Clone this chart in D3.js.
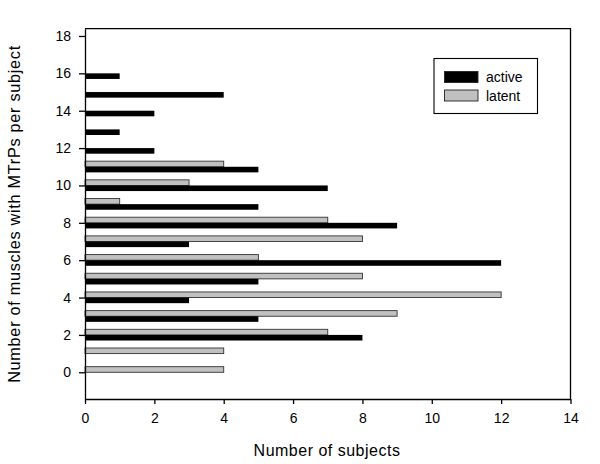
<html>
<head>
<script src="https://d3js.org/d3.v7.min.js"></script>
<style>
  body { margin: 0; background: #fff; }
  text { font-family: "Liberation Sans", Arial, sans-serif; }
</style>
</head>
<body>
<script>
// number of muscles with MTrPs per subject
const muscles = [0, 1, 2, 3, 4, 5, 6, 7, 8, 9, 10, 11, 12, 13, 14, 15, 16];
// number of subjects
const active = [0, 0, 8, 5, 3, 5, 12, 3, 9, 5, 7, 5, 2, 1, 2, 4, 1];
const latent = [4, 4, 7, 9, 12, 8, 5, 8, 7, 1, 3, 4, 0, 0, 0, 0, 0];
const xTicks = [0, 2, 4, 6, 8, 10, 12, 14];
const yTicks = [0, 2, 4, 6, 8, 10, 12, 14, 16, 18];

const width = 600, height = 464;
const svg = d3.select("body").append("svg")
  .attr("width", width)
  .attr("height", height);

const x = d3.scaleLinear().domain([0, 14]).range([85, 570.5]);
const y = d3.scaleLinear().domain([-1.43, 18.39]).range([399, 28.7]);
const half = 0.3; // bar thickness in y units

// frame (top and right)
svg.append("path")
  .attr("d", `M${x(0)},${y(18.39)}H${x(14)}V${y(-1.43)}`)
  .attr("fill", "none")
  .attr("stroke", "#000")
  .attr("stroke-width", 1.3);

// latent bars sit above the tick, active bars below
svg.selectAll(".latent")
  .data(muscles.filter((m, i) => latent[i] > 0))
  .join("rect")
  .attr("class", "latent")
  .attr("x", x(0))
  .attr("y", d => y(d + half))
  .attr("width", d => x(latent[d]) - x(0))
  .attr("height", y(0) - y(half))
  .attr("fill", "#c0c0c0")
  .attr("stroke", "#333")
  .attr("stroke-width", 0.9);

svg.selectAll(".active")
  .data(muscles.filter((m, i) => active[i] > 0))
  .join("rect")
  .attr("class", "active")
  .attr("x", x(0))
  .attr("y", d => y(d))
  .attr("width", d => x(active[d]) - x(0))
  .attr("height", y(0) - y(half))
  .attr("fill", "#000");

// axes
const xAxis = svg.append("g")
  .attr("transform", `translate(0,${y(-1.43)})`)
  .call(d3.axisBottom(x).tickValues(xTicks).tickSize(5).tickSizeOuter(0).tickPadding(9));
const yAxis = svg.append("g")
  .attr("transform", `translate(${x(0)},0)`)
  .call(d3.axisLeft(y).tickValues(yTicks).tickSize(6).tickSizeOuter(0).tickPadding(8));
[xAxis, yAxis].forEach(a => {
  a.selectAll("path, line").attr("stroke", "#000").attr("stroke-width", 1.3);
  a.selectAll("text").attr("font-size", 14).attr("fill", "#000")
    .style("font-family", "'Liberation Sans', Arial, sans-serif");
});

// axis titles
svg.append("text")
  .attr("x", 327).attr("y", 456)
  .attr("text-anchor", "middle")
  .attr("font-size", 16)
  .style("letter-spacing", "0.5px")
  .text("Number of subjects");
svg.append("text")
  .attr("transform", "translate(20,214) rotate(-90)")
  .attr("text-anchor", "middle")
  .attr("font-size", 16.3)
  .style("letter-spacing", "0.7px")
  .text("Number of muscles with MTrPs per subject");

// legend
const lg = svg.append("g");
lg.append("rect")
  .attr("x", 434).attr("y", 58.5).attr("width", 103.5).attr("height", 55)
  .attr("fill", "#fff").attr("stroke", "#000").attr("stroke-width", 1.1);
const items = [["active", "#000", 71.5], ["latent", "#c0c0c0", 90]];
items.forEach(([name, col, yy]) => {
  lg.append("rect")
    .attr("x", 444.5).attr("y", yy).attr("width", 33.5).attr("height", 11)
    .attr("fill", col).attr("stroke", "#222").attr("stroke-width", 0.9);
  lg.append("text")
    .attr("x", 486).attr("y", yy + 10.5)
    .attr("font-size", 14)
    .text(name);
});
</script>
</body>
</html>
